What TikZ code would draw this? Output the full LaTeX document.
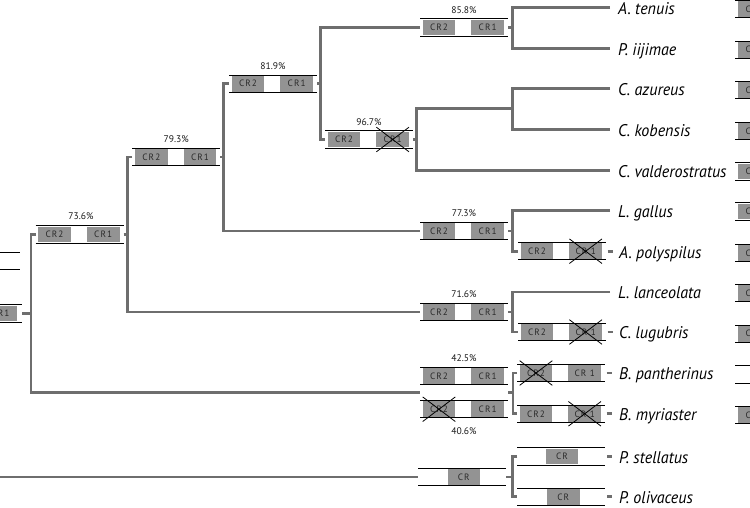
\documentclass[tikz,border=0pt]{standalone}
\usepackage{fontspec}
\setmainfont{PT Sans}
\newfontfamily\boxfont{PT Sans}[LetterSpace=12]
\newfontfamily\leaffont{PT Sans}[FakeStretch=0.95]
\usetikzlibrary{calc}
\definecolor{branchgray}{HTML}{6E6E6E}
\definecolor{segfill}{HTML}{939393}
\definecolor{segtext}{HTML}{2A2A2A}
\tikzset{
  branch/.style={draw=branchgray, line width=2.8pt},
  boxline/.style={draw=black, line width=0.9pt},
  frame/.style={rectangle, minimum width=88pt, minimum height=17.4pt, inner sep=0pt, outer sep=0pt,
    append after command={(\tikzlastnode.north west) edge[boxline] (\tikzlastnode.north east)
      (\tikzlastnode.south west) edge[boxline] (\tikzlastnode.south east)}},
  seg/.style={rectangle, fill=segfill, minimum width=32.6pt, minimum height=15.6pt, inner sep=0pt,
    outer sep=0pt, text=segtext, font=\boxfont\fontsize{9.2}{10}\selectfont},
  pct/.style={font=\fontsize{9.6}{10}\selectfont, text=black!90, inner sep=0pt},
  leaf/.style={font=\leaffont\fontsize{16.9}{18}\selectfont\itshape, anchor=base west, inner sep=0pt},
  xline/.style={draw=black, line width=0.8pt},
}
\newcommand\gbox[5]{%
  \node[frame, anchor=west] (#1) at (#2,#3) {};
  \node[seg, anchor=west] (#1-L) at ([xshift=2.7pt]#1.west) {#4};
  \node[seg, anchor=east] (#1-R) at ([xshift=-4pt]#1.east) {#5};
}
% gene map whose right part lies beyond the picture edge
\newcommand\gboxleft[3]{%
  \node[frame, anchor=west] (#1) at (#2,#3) {};
  \node[seg, anchor=west] (#1-L) at ([xshift=3.3pt]#1.west) {CR2};
}
\newcommand\xcross[1]{%
  \draw[xline] ([yshift=4.5pt]#1.north west) -- ([yshift=-4.5pt]#1.south east)
               ([yshift=-4.5pt]#1.south west) -- ([yshift=4.5pt]#1.north east);}
\begin{document}
\begin{tikzpicture}[x=1pt,y=-1pt]
\useasboundingbox (0,0) rectangle (750,507);
\clip (0,0) rectangle (750,507);
% ---------- internal gene maps ----------
\node[frame, anchor=east] (root) at (22,313.3) {};
\node[seg, anchor=east] (root-R) at ([xshift=-5.3pt]root.east) {CR1};
\node[frame,anchor=east] (lft) at (20,260.8) {};
\gbox{n736}{35.5}{234.3}{CR2}{CR1}
\gbox{n793}{132.3}{157}{CR2}{CR1}
\gbox{n819}{229}{83.7}{CR2}{CR1}
\gbox{n858}{420}{27.5}{CR2}{CR1}
\gbox{n967}{325}{139.5}{CR2}{CR1}
\gbox{n773}{420}{231}{CR2}{CR1}
\gbox{n716}{420}{312}{CR2}{CR1}
\gbox{n425}{420}{375.8}{CR2}{CR1}
\gbox{n406}{420}{409.2}{CR2}{CR1}
\node[frame,anchor=west] (ncr) at (418.3,477) {};
\node[seg] (ncr-C) at ([xshift=1.5pt]ncr.center) {CR};
% ---------- leaf gene maps ----------
\gbox{lpoly}{518}{251.2}{CR2}{CR 1}
\gbox{llug}{518}{332}{CR2}{CR 1}
\gbox{lpan}{517}{373}{CR2}{CR 1}
\gbox{lmyr}{517}{413.8}{CR2}{CR 1}
\node[frame,anchor=west] (lste) at (517.3,456.5) {};
\node[seg] (lste-C) at ([xshift=0.7pt]lste.center) {CR};
\node[frame,anchor=west] (loli) at (517.3,496.8) {};
\node[seg] (loli-C) at ([xshift=2pt]loli.center) {CR};
% ---------- right column ----------
\gboxleft{r1}{735}{9}
\gboxleft{r2}{735}{49.7}
\gboxleft{r3}{735}{90.2}
\gboxleft{r4}{735}{130.8}
\gboxleft{r5}{735}{171.4}
\gboxleft{r6}{735}{211.6}
\gboxleft{r7}{735}{253}
\gboxleft{r8}{735}{293.2}
\gboxleft{r9}{735}{333.7}
\node[frame,anchor=west] (r10) at (735,374.5) {};
\gboxleft{r11}{735}{414.8}
% ---------- crosses ----------
\xcross{n967-R}
\xcross{n406-L}
\xcross{lpoly-R}
\xcross{llug-R}
\xcross{lpan-L}
\xcross{lmyr-R}
% ---------- percentages ----------
\node[pct,anchor=base] (p736) at ([xshift=1.5pt,yshift=5.8pt]n736.north) {73.6\%};
\node[pct,anchor=base] (p793) at ([yshift=5.8pt]n793.north) {79.3\%};
\node[pct,anchor=base] (p819) at ([yshift=5.8pt]n819.north) {81.9\%};
\node[pct,anchor=base] (p858) at ([yshift=5.8pt]n858.north) {85.8\%};
\node[pct,anchor=base] (p967) at ([yshift=5.8pt]n967.north) {96.7\%};
\node[pct,anchor=base] (p773) at ([yshift=5.8pt]n773.north) {77.3\%};
\node[pct,anchor=base] (p716) at ([yshift=5.8pt]n716.north) {71.6\%};
\node[pct,anchor=base] (p425) at ([yshift=5.8pt]n425.north) {42.5\%};
\node[pct,anchor=north] (p406) at ([yshift=-9.5pt]n406.south) {40.6\%};
% ---------- leaf end points ----------
\coordinate (tA) at (610,7.6);
\coordinate (tP) at (610,48.4);
\coordinate (tAz) at (610,88.5);
\coordinate (tKo) at (610,129.8);
\coordinate (tV) at (610,170.2);
\coordinate (tG) at (610,210.8);
\coordinate (tL) at (610,292);
\coordinate (c0) at (0,477);
% ---------- junctions ----------
\coordinate (j0) at ([xshift=9pt]root.east);
\coordinate (j736) at ([xshift=3.8pt]n736.east);
\coordinate (j793) at ([xshift=3.3pt]n793.east);
\coordinate (j819) at ([xshift=3.5pt]n819.east);
\coordinate (j858) at ([xshift=4.7pt]n858.east);
\coordinate (j967) at ([xshift=3.7pt]n967.east);
\coordinate (jaz) at (512.7,108.6);
\coordinate (j773) at ([xshift=4.5pt]n773.east);
\coordinate (j716) at ([xshift=4.5pt]n716.east);
\coordinate (m425L) at ($(n425.south west)!0.5!(n406.north west)$);
\coordinate (m425R) at ($(n425.south east)!0.5!(n406.north east)$);
\coordinate (j425) at ([xshift=5pt]m425R);
\coordinate (jcr) at ([xshift=6.5pt]ncr.east);
% ---------- branches ----------
\draw[branch] (root.east) -- (j0);
\draw[branch] (n736.west) -| (j0) |- (m425L);
\draw[branch] (n736.east) -- (j736);
\draw[branch] (n793.west) -| (j736) |- (n716.west);
\draw[branch] (n793.east) -- (j793);
\draw[branch] (n819.west) -| (j793) |- (n773.west);
\draw[branch] (n819.east) -- (j819);
\draw[branch] (n858.west) -| (j819) |- (n967.west);
\draw[branch] (n858.east) -- (j858);
\draw[branch] (tA) -| (j858) |- (tP);
\draw[branch] (n967.east) -- (j967);
\draw[branch] (jaz) -| (j967) |- (tV);
\draw[branch] (tAz) -| (jaz) |- (tKo);
\draw[branch] (n773.east) -- (j773);
\draw[branch] (tG) -| (j773) |- (lpoly.west);
\draw[branch] (n716.east) -- (j716);
\draw[branch] (tL) -| (j716) |- (llug.west);
\draw[branch] (m425R) -- (j425);
\draw[branch] (lpan.west) -| (j425) |- (lmyr.west);
\draw[branch] (c0) -- (ncr.west);
\draw[branch] (ncr.east) -- (jcr);
\draw[branch] (lste.west) -| (jcr) |- (loli.west);
\foreach \n in {lpoly,llug,lpan,lmyr,lste,loli}
  \draw[branch] ([xshift=1.7pt]\n.east) -- ++(5,0);
% ---------- species names ----------
\node[leaf] (sA) at ([xshift=8pt,yshift=-6.8pt]tA) {A. tenuis};
\node[leaf] (sP) at ([xshift=8pt,yshift=-6.8pt]tP) {P. iijimae};
\node[leaf] (sAz) at ([xshift=8pt,yshift=-6.8pt]tAz) {C. azureus};
\node[leaf] (sKo) at ([xshift=8pt,yshift=-6.8pt]tKo) {C. kobensis};
\node[leaf] (sV) at ([xshift=8pt,yshift=-6.8pt]tV) {C. valderostratus};
\node[leaf] (sG) at ([xshift=8pt,yshift=-6.8pt]tG) {L. gallus};
\node[leaf] (sPo) at ([xshift=13pt,yshift=-6.8pt]lpoly.east) {A. polyspilus};
\node[leaf] (sL) at ([xshift=8pt,yshift=-6.8pt]tL) {L. lanceolata};
\node[leaf] (sLu) at ([xshift=13pt,yshift=-6.8pt]llug.east) {C. lugubris};
\node[leaf] (sPa) at ([xshift=14pt,yshift=-6.8pt]lpan.east) {B. pantherinus};
\node[leaf] (sM) at ([xshift=14pt,yshift=-6.8pt]lmyr.east) {B. myriaster};
\node[leaf] (sS) at ([xshift=13.7pt,yshift=-6.8pt]lste.east) {P. stellatus};
\node[leaf] (sO) at ([xshift=13.7pt,yshift=-6.8pt]loli.east) {P. olivaceus};
\end{tikzpicture}
\end{document}
